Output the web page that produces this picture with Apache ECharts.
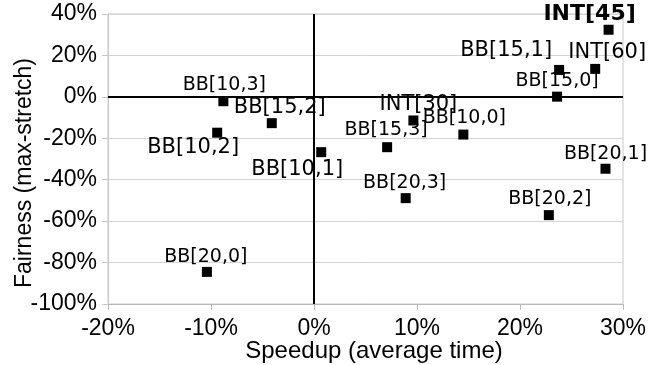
<!DOCTYPE html>
<html>
<head>
<meta charset="utf-8">
<script src="https://cdn.jsdelivr.net/npm/echarts@6/dist/echarts.min.js"></script>
<style>
  html, body { margin: 0; padding: 0; background: #fff; }
  #main { width: 669px; height: 365px; }
</style>
</head>
<body>
<div id="main"></div>
<script>
// configurations (labels), speedup and fairness in percent
var names = ['INT[45]', 'INT[60]', 'BB[15,1]', 'BB[15,0]', 'BB[10,3]', 'BB[15,2]', 'BB[10,2]', 'BB[10,1]',
             'INT[30]', 'BB[10,0]', 'BB[15,3]', 'BB[20,1]', 'BB[20,3]', 'BB[20,2]', 'BB[20,0]']
var speedup = [28.6, 27.3, 23.8, 23.6, -8.8, -4.1, -9.4, 0.7, 9.65, 14.5, 7.1, 28.3, 8.9, 22.8, -10.4]
var fairness = [32.4, 13.5, 13.0, 0.1, -2.1, -12.7, -17.3, -26.7, -11.4, -18.2, -24.3, -34.7, -48.9, -57.1, -84.5]

// label placement, by name (offset from the marker, font size, bold)
var labelStyle = {
  'INT[45]':  { off: [-19, -15], size: 22, bold: true },
  'INT[60]':  { off: [12, -16], size: 21 },
  'BB[15,1]': { off: [-53, -19], size: 21 },
  'BB[15,0]': { off: [0, -16], size: 19 },
  'BB[10,3]': { off: [1, -16], size: 19 },
  'BB[15,2]': { off: [8, -16], size: 21 },
  'BB[10,2]': { off: [-24, 15], size: 21 },
  'BB[10,1]': { off: [-24, 17], size: 21 },
  'INT[30]':  { off: [5, -16], size: 21 },
  'BB[10,0]': { off: [1, -16], size: 19 },
  'BB[15,3]': { off: [-1, -17], size: 19 },
  'BB[20,1]': { off: [0, -15], size: 19 },
  'BB[20,3]': { off: [-1, -15], size: 19 },
  'BB[20,2]': { off: [1, -16], size: 19 },
  'BB[20,0]': { off: [-1, -15], size: 19 }
}

var points = []
for (var i = 0; i < names.length; i++) {
  var ls = labelStyle[names[i]]
  points.push({
    name: names[i],
    value: [speedup[i], fairness[i]],
    label: {
      offset: ls.off,
      fontSize: ls.size,
      fontWeight: ls.bold ? 'bold' : 'normal'
    }
  })
}

var chart = echarts.init(document.getElementById('main'))
var axisFont = { fontFamily: 'Liberation Sans', fontSize: 23, color: '#000' }

var option = {
  animation: false,
  grid: {
    left: 108, right: 46, top: 14, bottom: 61,
    containLabel: false,
    outerBoundsMode: 'none',
    show: true, borderColor: '#c8c8c8', borderWidth: 1
  },
  xAxis: {
    type: 'value',
    min: -20, max: 30, interval: 10,
    name: 'Speedup (average time)',
    nameLocation: 'middle',
    nameGap: 35,
    nameMoveOverlap: false,
    nameTextStyle: { fontFamily: 'Liberation Sans', fontSize: 24, color: '#000', padding: [0, 0, 0, 17] },
    axisLine: { onZero: false, lineStyle: { color: '#b8b8b8' } },
    axisTick: { show: true, length: 6, lineStyle: { color: '#b8b8b8' } },
    axisLabel: Object.assign({ margin: 13, formatter: '{value}%' }, axisFont),
    splitLine: { show: false }
  },
  yAxis: {
    type: 'value',
    min: -100, max: 40, interval: 20,
    name: 'Fairness (max-stretch)',
    nameLocation: 'middle',
    nameGap: 72,
    nameMoveOverlap: false,
    nameTextStyle: { fontFamily: 'Liberation Sans', fontSize: 23, color: '#000', padding: [0, 28, 0, 0] },
    axisLine: { show: true, onZero: false, lineStyle: { color: '#c8c8c8' } },
    axisTick: { show: true, length: 6, lineStyle: { color: '#c8c8c8' } },
    axisLabel: Object.assign({ margin: 11, formatter: '{value}%' }, axisFont),
    splitLine: { show: true, lineStyle: { color: '#d4d4d4', width: 1 } }
  },
  series: [{
    type: 'scatter',
    symbol: 'rect',
    symbolSize: 10,
    itemStyle: { color: '#000', opacity: 1 },
    label: {
      show: true,
      position: 'inside',
      formatter: '{b}',
      fontFamily: 'DejaVu Sans',
      color: '#000',
      opacity: 1,
      textBorderWidth: 0
    },
    data: points,
    markLine: {
      silent: true,
      symbol: ['none', 'none'],
      label: { show: false },
      lineStyle: { color: '#000', width: 2, type: 'solid', opacity: 1 },
      data: [{ xAxis: 0 }, { yAxis: 0 }]
    }
  }]
}
chart.setOption(option)
</script>
</body>
</html>
